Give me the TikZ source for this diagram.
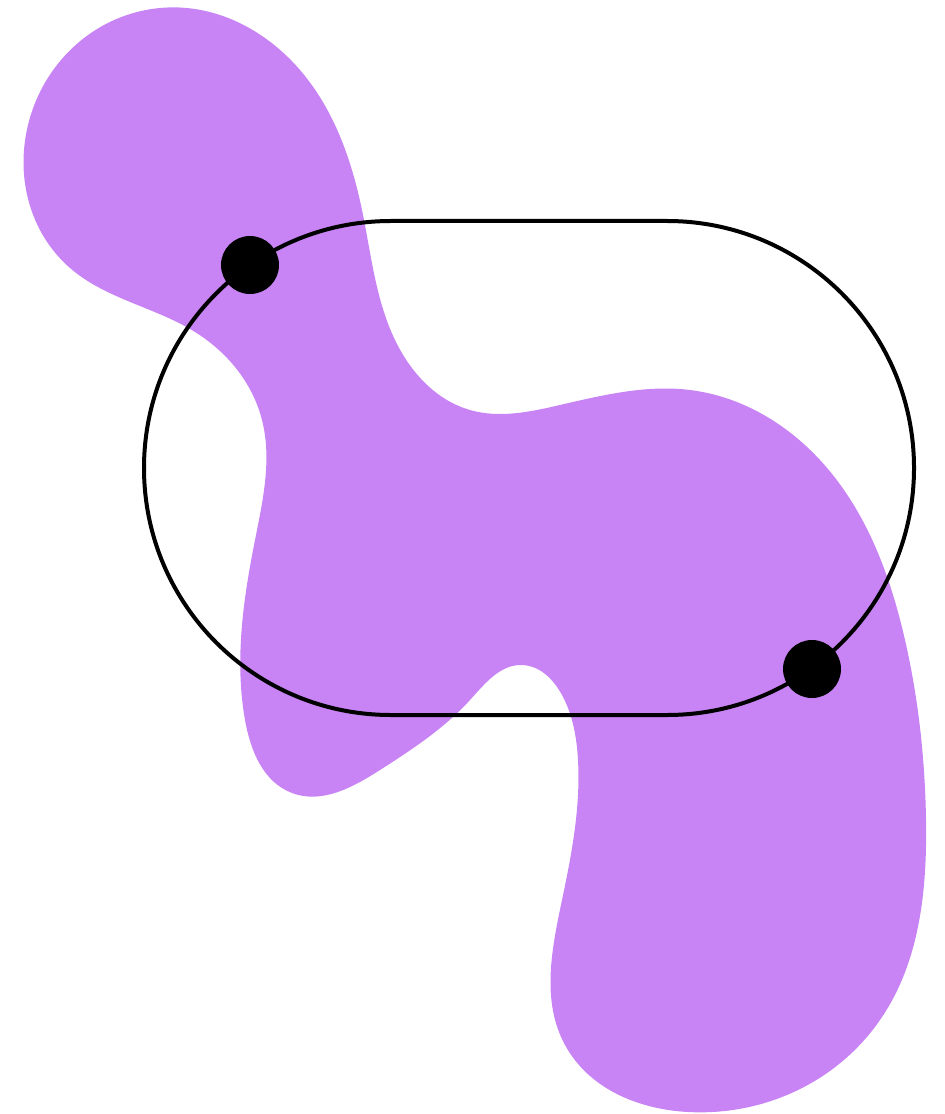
\documentclass[tikz,border=0pt]{standalone}
\usepackage{tikz}
\usetikzlibrary{hobby}
\usepackage{xcolor}
\definecolor{blobpurple}{RGB}{200,132,244}

\begin{document}
\begin{tikzpicture}[x=0.02cm,y=-0.02cm,
  dot/.style={circle,fill=black,inner sep=0pt,minimum size=1.16cm}]
  \useasboundingbox (0,0) rectangle (944,1114);

  % blob
  \fill[blobpurple] plot[closed hobby] coordinates {
    (24,150) (160,8) (300,70) (362,210) (395,340) (470,410)
    (560,405) (690,390) (820,460) (905,640) (926,820) (880,1020)
    (688,1112) (565,1045) (562,900) (578,760) (562,695) (522,665)
    (470,700) (380,770) (292,793) (245,720) (255,540) (262,420)
    (195,332) (70,268)};

  % stadium
  \draw[line width=0.08cm,rounded corners=4.94cm] (144,221) rectangle (914,715);

  % points
  \node[dot] (p1) at (250,265) {};
  \node[dot] (p2) at (812,669) {};
\end{tikzpicture}
\end{document}
